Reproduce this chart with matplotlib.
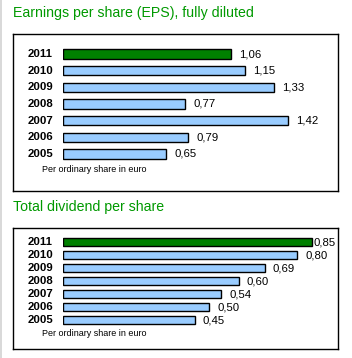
import matplotlib.pyplot as plt
from matplotlib.patches import Rectangle

plt.rcParams['font.family'] = ['Liberation Sans', 'DejaVu Sans']

years = ['2011', '2010', '2009', '2008', '2007', '2006', '2005']
eps = [1.06, 1.15, 1.33, 0.77, 1.42, 0.79, 0.65]
dividend = [0.85, 0.80, 0.69, 0.60, 0.54, 0.50, 0.45]
eps_labels = ['1,06', '1,15', '1,33', '0,77', '1,42', '0,79', '0,65']
div_labels = ['0,85', '0,80', '0,69', '0,60', '0,54', '0,50', '0,45']

W, H = 352, 358
fig = plt.figure(figsize=(W / 100, H / 100), dpi=100)
fig.patch.set_facecolor('white')

# grey strip on the left edge
fig.patches.append(Rectangle((0, 0), 2 / W, 1, transform=fig.transFigure,
                             facecolor='#d9d9d9', edgecolor='none'))

GREEN = '#008000'
BLUE = '#99ccff'
TITLE = '#009900'


def px_axes(x0, y0, x1, y1):
    # pixel box (top-left origin) -> figure axes
    return fig.add_axes([x0 / W, 1 - y1 / H, (x1 - x0) / W, (y1 - y0) / H])


def panel(title, title_y, box, bar_y, vals, labels, px_per_unit, bar_h, note_y):
    fig.text(13 / W, 1 - title_y / H, title, color=TITLE, fontsize=10.2,
             va='center', ha='left')
    frame = px_axes(*box)
    frame.set_xticks([])
    frame.set_yticks([])
    for s in frame.spines.values():
        s.set_linewidth(1.0)
        s.set_color('black')

    ax = px_axes(63, bar_y[0], box[2], bar_y[1])
    ax.set_facecolor('none')
    ax.axis('off')
    width_px = box[2] - 63
    ax.set_xlim(0, width_px / px_per_unit)
    ax.set_ylim(len(vals) - 0.5, -0.5)
    colors = [GREEN] + [BLUE] * (len(vals) - 1)
    ax.barh(range(len(vals)), vals, height=bar_h, color=colors,
            edgecolor='black', linewidth=1.0)
    for i, (v, lab, yr) in enumerate(zip(vals, labels, years)):
        end_px = v * px_per_unit
        gap = 8 if end_px + 35 < width_px else 2
        ax.annotate(lab, (v, i), xytext=(gap * 0.72, 0), textcoords='offset points',
                    va='center', ha='left', fontsize=8.2)
        ax.annotate(yr, (0, i), xytext=(-10 * 0.72, 0), textcoords='offset points',
                    va='center', ha='right', fontsize=8.2, fontweight='bold')
    fig.text(42 / W, 1 - note_y / H, 'Per ordinary share in euro', fontsize=6.5,
             va='center', ha='left')


panel('Earnings per share (EPS), fully diluted', 13, (13, 34, 338, 191),
      (45.7, 162.3), eps, eps_labels, 158.5, 0.55, 170)
panel('Total dividend per share', 207, (13, 228, 338, 349),
      (235.8, 326.5), dividend, div_labels, 292.6, 0.6, 334)

fig.savefig('out.png', dpi=100)
